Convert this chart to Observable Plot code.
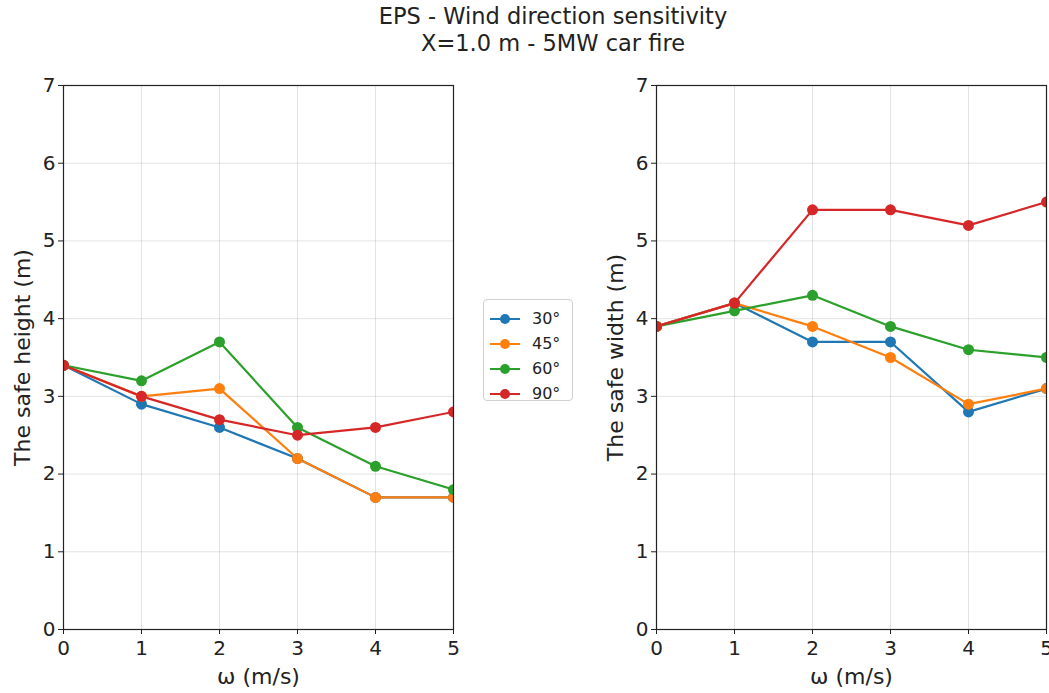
<!DOCTYPE html>
<html><head><meta charset="utf-8">
<script src="https://cdn.jsdelivr.net/npm/d3@7"></script>
<script src="https://cdn.jsdelivr.net/npm/@observablehq/plot@0.6"></script>
<style>
body{margin:0;background:#fff;font-family:"DejaVu Sans",sans-serif;}
#wrap{position:relative;width:1049px;height:693px;overflow:hidden;}
#title{position:absolute;left:0;top:3px;width:1106px;text-align:center;font-size:22.5px;line-height:27px;color:#222;}
#p1{position:absolute;left:0;top:70px;}
#p2{position:absolute;left:593px;top:70px;}
#legend{position:absolute;left:483px;top:299px;width:90px;height:102px;border:1px solid #d0d0d0;border-radius:4px;box-sizing:border-box;padding-top:6px;}
.row{display:flex;align-items:center;height:25px;font-size:16px;color:#222;}
.row svg{margin-left:6px;margin-right:12px;}
svg text{font-family:"DejaVu Sans",sans-serif;}
</style></head>
<body><div id="wrap">
<div id="title">EPS - Wind direction sensitivity<br>X=1.0 m - 5MW car fire</div>
<div id="p1"></div><div id="legend"></div><div id="p2"></div>
</div>
<script>
const speeds = [0, 1, 2, 3, 4, 5];
const angles = ["30°", "45°", "60°", "90°"];
const colors = ["#1f77b4", "#ff7f0e", "#2ca02c", "#d62728"];
// safe height (m) per angle
const height30 = [3.4, 2.9, 2.6, 2.2, 1.7, 1.7];
const height45 = [3.4, 3.0, 3.1, 2.2, 1.7, 1.7];
const height60 = [3.4, 3.2, 3.7, 2.6, 2.1, 1.8];
const height90 = [3.4, 3.0, 2.7, 2.5, 2.6, 2.8];
// safe width (m) per angle
const width30 = [3.9, 4.2, 3.7, 3.7, 2.8, 3.1];
const width45 = [3.9, 4.2, 3.9, 3.5, 2.9, 3.1];
const width60 = [3.9, 4.1, 4.3, 3.9, 3.6, 3.5];
const width90 = [3.9, 4.2, 5.4, 5.4, 5.2, 5.5];
const xTicks = [0, 1, 2, 3, 4, 5];
const yTicks = [0, 1, 2, 3, 4, 5, 6, 7];

function table(series) {
  const rows = [];
  series.forEach((vals, i) => vals.forEach((v, j) => rows.push({x: speeds[j], y: v, angle: angles[i]})));
  return rows;
}

function panel(series, ylabel, width, mr) {
  const data = table(series);
  return Plot.plot({
    width, height: 623,
    marginLeft: 63, marginRight: mr, marginTop: 15, marginBottom: 64,
    style: {fontSize: "20px", color: "#222", background: "transparent", overflow: "visible"},
    x: {domain: [0, 5], ticks: xTicks},
    y: {domain: [0, 7], ticks: yTicks},
    color: {domain: angles, range: colors},
    marks: [
      Plot.gridX(xTicks, {stroke: "#b0b0b0", strokeOpacity: 0.35, strokeWidth: 1}),
      Plot.gridY(yTicks, {stroke: "#b0b0b0", strokeOpacity: 0.35, strokeWidth: 1}),
      Plot.line(data, {x: "x", y: "y", z: "angle", stroke: "angle", strokeWidth: 2.2, clip: true}),
      Plot.dot(data, {x: "x", y: "y", fill: "angle", r: 5.5, clip: true}),
      Plot.frame({stroke: "#222", strokeWidth: 1.2}),
      Plot.axisX(xTicks, {label: null, tickSize: 5, tickPadding: 6, fontSize: 20, tickFormat: d3.format("d")}),
      Plot.axisY(yTicks, {label: null, tickSize: 5, tickPadding: 3, fontSize: 20, tickFormat: d3.format("d")}),
      Plot.text(["ω (m/s)"], {frameAnchor: "bottom", dy: 54, fontSize: 22, fill: "#222"}),
      Plot.text([ylabel], {frameAnchor: "left", rotate: -90, textAnchor: "middle", dx: -41, fontSize: 22, fill: "#222"})
    ]
  });
}

document.getElementById("p1").append(panel([height30, height45, height60, height90], "The safe height (m)", 470, 17));
document.getElementById("p2").append(panel([width30, width45, width60, width90], "The safe width (m)", 456, 3));

const leg = document.getElementById("legend");
angles.forEach((a, i) => {
  const row = document.createElement("div");
  row.className = "row";
  row.innerHTML = `<svg width="30" height="12"><line x1="0" x2="30" y1="6" y2="6" stroke="${colors[i]}" stroke-width="2"/><circle cx="15" cy="6" r="5" fill="${colors[i]}"/></svg><span>${a}</span>`;
  leg.append(row);
});
</script>
</body></html>
